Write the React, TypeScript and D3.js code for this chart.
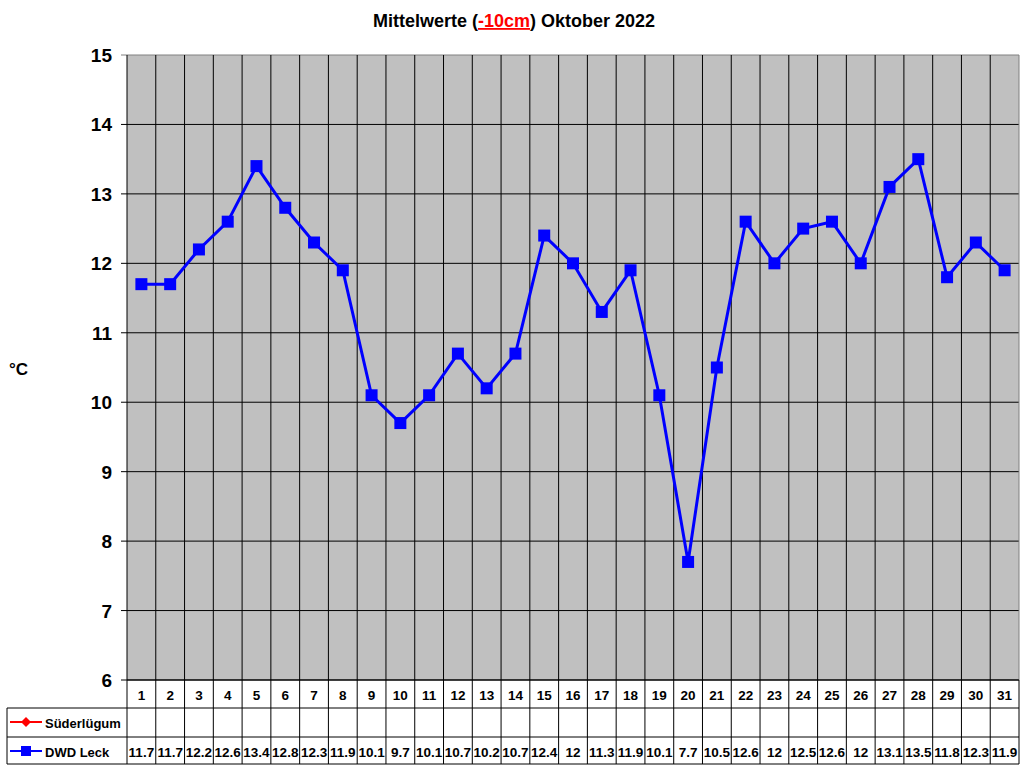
import React from "react";
import * as d3 from "d3";

const days = d3.range(1, 32);
const dwdLeck = [
  11.7, 11.7, 12.2, 12.6, 13.4, 12.8, 12.3, 11.9, 10.1, 9.7, 10.1, 10.7, 10.2, 10.7, 12.4, 12,
  11.3, 11.9, 10.1, 7.7, 10.5, 12.6, 12, 12.5, 12.6, 12, 13.1, 13.5, 11.8, 12.3, 11.9,
];
const yTicks = [6, 7, 8, 9, 10, 11, 12, 13, 14, 15];

const W = 1024;
const H = 768;
const left = 127;
const right = 1019;
const top = 55;
const bottom = 680;
const rowH = [28, 29, 27];

export default function App() {
  const x = d3.scaleBand<number>().domain(days).range([left, right]);
  const y = d3.scaleLinear().domain([6, 15]).range([bottom, top]);
  const line = d3
    .line<number>()
    .x((_, i) => (x(days[i]) ?? 0) + x.bandwidth() / 2)
    .y((d) => y(d));

  const r1 = bottom + rowH[0];
  const r2 = r1 + rowH[1];
  const r3 = r2 + rowH[2];
  const font = "Arial, 'Liberation Sans', sans-serif";

  return (
    <svg
      width={W}
      height={H}
      style={{ position: "absolute", left: 0, top: 0, background: "#fff" }}
      fontFamily={font}
    >
      <text x={514} y={27} textAnchor="middle" fontWeight="bold" fontSize={18}>
        Mittelwerte (
        <tspan fill="#ff0000" textDecoration="underline">-10cm</tspan>
        ) Oktober 2022
      </text>

      <rect x={left} y={top} width={right - left} height={bottom - top} fill="#c0c0c0" />
      {yTicks.map((t) => (
        <g key={t}>
          <line x1={left - 6} x2={right} y1={y(t)} y2={y(t)} stroke={t === 15 ? "#808080" : "#000"} strokeWidth={1} />
          <text x={112} y={y(t) + 7} textAnchor="end" fontWeight="bold" fontSize={19}>
            {t}
          </text>
        </g>
      ))}
      {days.map((d, i) => (
        <line
          key={d}
          x1={x(d) ?? 0}
          x2={x(d) ?? 0}
          y1={top}
          y2={i === 0 ? bottom : r3}
          stroke="#000"
        />
      ))}
      <line x1={right} x2={right} y1={top} y2={bottom} stroke="#808080" />
      <line x1={right} x2={right} y1={bottom} y2={r3} stroke="#000" />
      <line x1={left} x2={left} y1={bottom} y2={r3} stroke="#000" />
      <line x1={7} x2={7} y1={r1} y2={r3} stroke="#000" />
      <line x1={left} x2={right} y1={bottom} y2={bottom} stroke="#000" />
      <line x1={7} x2={right} y1={r1} y2={r1} stroke="#000" />
      <line x1={7} x2={right} y1={r2} y2={r2} stroke="#000" />
      <line x1={7} x2={right} y1={r3} y2={r3} stroke="#000" />

      <text x={9} y={375} fontWeight="bold" fontSize={17}>°C</text>

      <path d={line(dwdLeck) ?? ""} fill="none" stroke="#0000ff" strokeWidth={3} />
      {dwdLeck.map((v, i) => (
        <rect
          key={i}
          x={(x(days[i]) ?? 0) + x.bandwidth() / 2 - 6}
          y={y(v) - 6}
          width={12}
          height={12}
          fill="#0000ff"
        />
      ))}

      {days.map((d, i) => (
        <g key={d}>
          <text
            x={(x(d) ?? 0) + x.bandwidth() / 2}
            y={bottom + 20}
            textAnchor="middle"
            fontWeight="bold"
            fontSize={13.5}
          >
            {d}
          </text>
          <text
            x={(x(d) ?? 0) + x.bandwidth() / 2}
            y={r2 + 20}
            textAnchor="middle"
            fontWeight="bold"
            fontSize={13.5}
          >
            {dwdLeck[i]}
          </text>
        </g>
      ))}

      <line x1={10} x2={42} y1={r1 + 14} y2={r1 + 14} stroke="#ff0000" strokeWidth={2} />
      <path d={`M26,${r1 + 9} L31,${r1 + 14} L26,${r1 + 19} L21,${r1 + 14} Z`} fill="#ff0000" />
      <text x={45} y={r1 + 20} fontWeight="bold" fontSize={13}>Süderlügum</text>

      <line x1={10} x2={42} y1={r2 + 14} y2={r2 + 14} stroke="#0000ff" strokeWidth={2} />
      <rect x={21} y={r2 + 9} width={10} height={10} fill="#0000ff" />
      <text x={45} y={r2 + 20} fontWeight="bold" fontSize={13}>DWD Leck</text>
    </svg>
  );
}
